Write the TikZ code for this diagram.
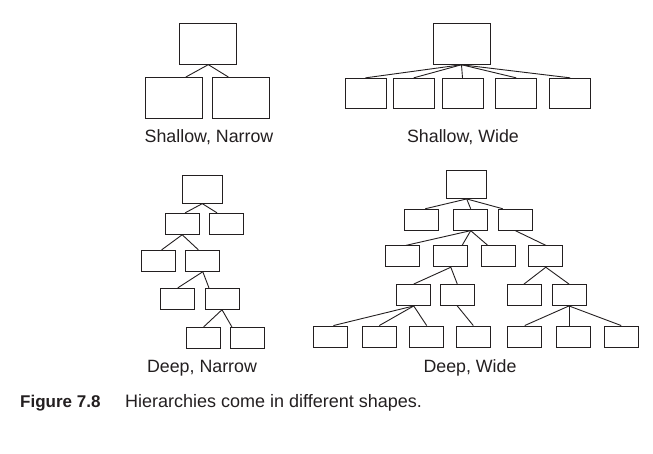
\documentclass[tikz,border=0pt]{standalone}
\usepackage{fontspec}
\setmainfont{Liberation Sans}
\definecolor{ink}{HTML}{231F20}
\tikzset{
    box/.style={draw=ink,line width=0.9pt,inner sep=0pt},
    bigbox/.style={box,minimum width=57pt,minimum height=41pt},
    midbox/.style={box,minimum width=41pt,minimum height=30pt},
    rootbox/.style={box,minimum width=40pt,minimum height=28pt},
    smallbox/.style={box,minimum width=34pt,minimum height=21pt},
    link/.style={draw=ink,line width=0.9pt},
    shapelabel/.style={text=ink,anchor=base,inner sep=0pt,font=\fontsize{17.8}{20}\selectfont}
}

\begin{document}
\begin{tikzpicture}[x=1pt,y=-1pt]
    \useasboundingbox (0,0) rectangle (653,454);

    % shallow, narrow
    \node[bigbox] (sn0) at (208.3,43.7) {};
    \node[bigbox] (sn1) at (173.7,98) {};
    \node[bigbox] (sn2) at (240.5,98) {};
    \draw[link] (sn0.south) -- (sn1.60);
    \draw[link] (sn0.south) -- (sn2.120);
    \node[shapelabel] (snlabel) at (209,142.5) {Shallow, Narrow};

    % shallow, wide
    \node[bigbox] (sw0) at (461.5,43.8) {};
    \node[midbox] (sw1) at (365.5,93.3) {};
    \node[midbox] (sw2) at (413.7,93.3) {};
    \node[midbox] (sw3) at (462.5,93.3) {};
    \node[midbox] (sw4) at (516.2,93.3) {};
    \node[midbox] (sw5) at (570.2,93.3) {};
    \foreach \c in {1,...,5}
        \draw[link] (sw0.south) -- (sw\c.north);
    \node[shapelabel] (swlabel) at (463,142.5) {Shallow, Wide};

    % deep, narrow
    \node[rootbox] (dn0) at (202.3,189.2) {};
    \node[smallbox] (dn1a) at (182.2,223.8) {};
    \node[smallbox] (dn1b) at (226.2,223.8) {};
    \node[smallbox] (dn2a) at (158.7,260.8) {};
    \node[smallbox] (dn2b) at (202.8,260.8) {};
    \node[smallbox] (dn3a) at (177.8,298.8) {};
    \node[smallbox] (dn3b) at (222,298.8) {};
    \node[smallbox] (dn4a) at (203.7,337.8) {};
    \node[smallbox] (dn4b) at (247.5,337.8) {};
    \draw[link] (dn0.south) -- (dn1a.75);
    \draw[link] (dn0.south) -- (dn1b.130);
    \draw[link] (dn1a.south) -- (dn2a.75);
    \draw[link] (dn1a.south) -- (dn2b.112);
    \draw[link] (dn2b.south) -- (dn3a.north);
    \draw[link] (dn2b.south) -- (dn3b.140);
    \draw[link] (dn3b.south) -- (dn4a.north);
    \draw[link] (dn3b.south) -- (dn4b.145);
    \node[shapelabel] (dnlabel) at (202,372.5) {Deep, Narrow};

    % deep, wide
    \node[rootbox] (dw0) at (466.7,184.5) {};
    % level 1
    \node[smallbox] (dw1a) at (421.7,219.7) {};
    \node[smallbox] (dw1b) at (470.7,219.7) {};
    \node[smallbox] (dw1c) at (515.3,219.7) {};
    % level 2
    \node[smallbox] (dw2a) at (402.5,256.3) {};
    \node[smallbox] (dw2b) at (450.8,256.3) {};
    \node[smallbox] (dw2c) at (498.7,256.3) {};
    \node[smallbox] (dw2d) at (545.8,256.3) {};
    % level 3
    \node[smallbox] (dw3a) at (413.7,295) {};
    \node[smallbox] (dw3b) at (457.3,295) {};
    \node[smallbox] (dw3c) at (524,295) {};
    \node[smallbox] (dw3d) at (569,295) {};
    % level 4
    \node[smallbox] (dw4a) at (330.3,336.5) {};
    \node[smallbox] (dw4b) at (379.3,336.5) {};
    \node[smallbox] (dw4c) at (426.7,336.5) {};
    \node[smallbox] (dw4d) at (473.3,336.5) {};
    \node[smallbox] (dw4e) at (524.7,336.5) {};
    \node[smallbox] (dw4f) at (573.7,336.5) {};
    \node[smallbox] (dw4g) at (621.2,336.5) {};
    % links
    \draw[link] (dw0.south) -- (dw1a.72);
    \draw[link] (dw0.south) -- (dw1b.north);
    \draw[link] (dw0.south) -- (dw1c.139);
    \draw[link] (dw1b.south) -- (dw2a.72);
    \draw[link] (dw1b.south) -- (dw2b.44);
    \draw[link] (dw1b.south) -- (dw2c.135);
    \draw[link] (dw1c.south) -- (dw2d.north);
    \draw[link] (dw2b.south) -- (dw3a.north);
    \draw[link] (dw2b.south) -- (dw3b.north);
    \draw[link] (dw2d.south) -- (dw3c.north);
    \draw[link] (dw2d.south) -- (dw3d.north);
    \draw[link] (dw3a.south) -- (dw4a.74);
    \draw[link] (dw3a.south) -- (dw4b.north);
    \draw[link] (dw3a.south) -- (dw4c.north);
    \draw[link] (dw3b.south) -- (dw4d.north);
    \draw[link] (dw3d.south) -- (dw4e.north);
    \draw[link] (dw3d.south) -- (dw3d.south |- dw4f.north);
    \draw[link] (dw3d.south) -- (dw4g.north);
    \node[shapelabel] (dwlabel) at (470,372.5) {Deep, Wide};

    % caption
    \node[shapelabel,anchor=base west,font=\fontsize{17}{20}\selectfont] (fignum) at (20,407) {\bfseries Figure 7.8};
    \node[shapelabel,anchor=base west,font=\fontsize{18}{20}\selectfont] (figtext) at (125,407) {Hierarchies come in different shapes.};
\end{tikzpicture}
\end{document}
